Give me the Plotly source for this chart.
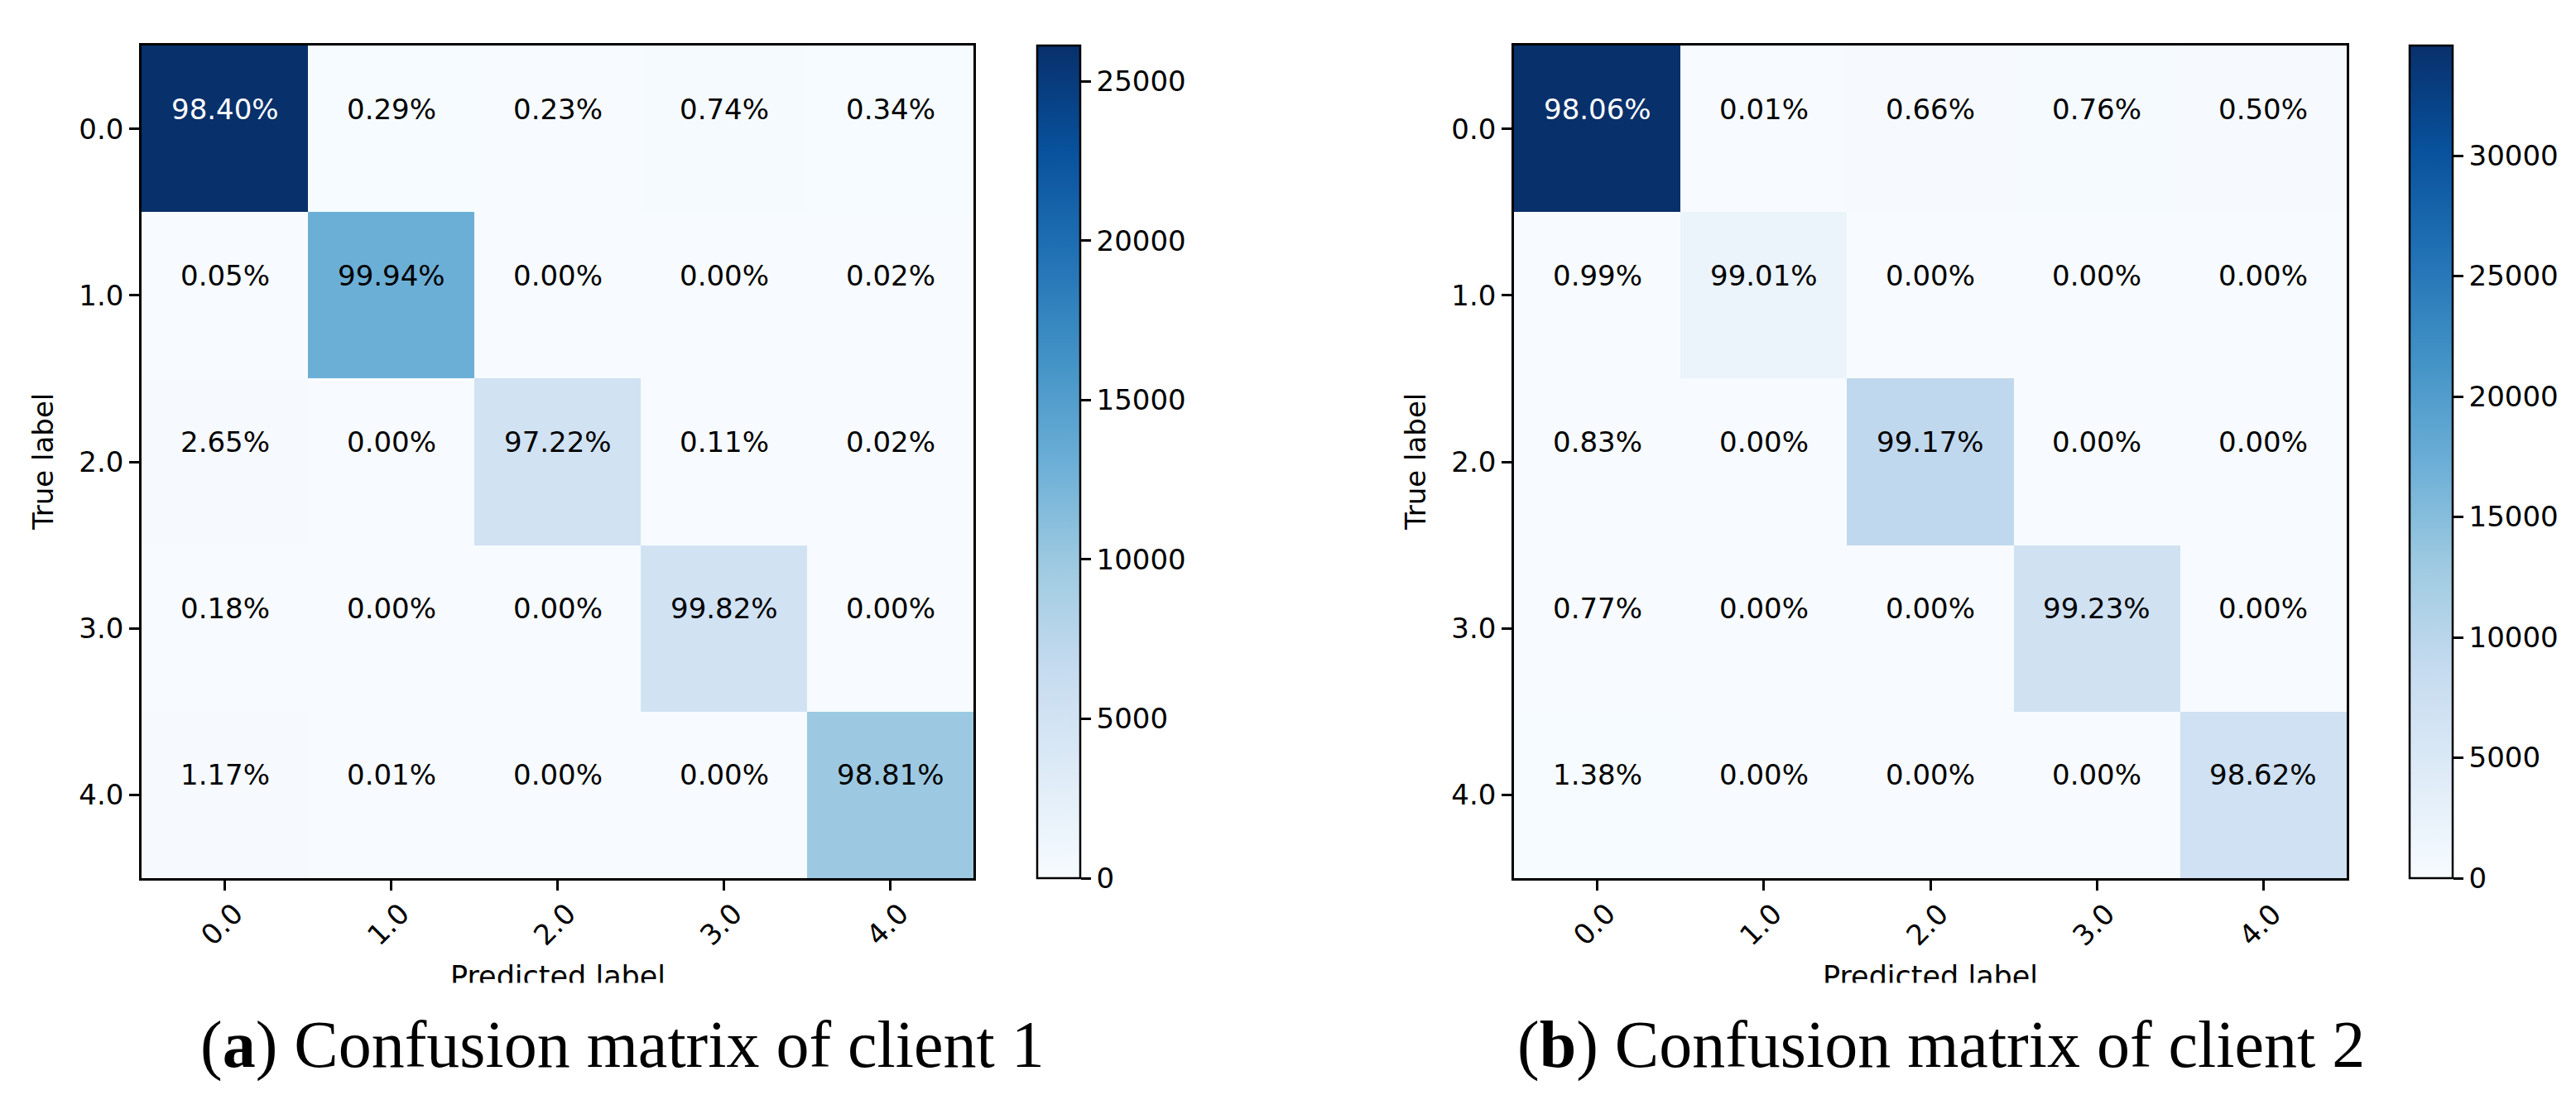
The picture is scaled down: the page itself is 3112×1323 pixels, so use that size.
import plotly.graph_objects as go

W, H = 3112, 1323

labels = ["0.0", "1.0", "2.0", "3.0", "4.0"]

# row-normalised percentages shown in the cells
pct_client1 = [
    [98.40, 0.29, 0.23, 0.74, 0.34],
    [0.05, 99.94, 0.00, 0.00, 0.02],
    [2.65, 0.00, 97.22, 0.11, 0.02],
    [0.18, 0.00, 0.00, 99.82, 0.00],
    [1.17, 0.01, 0.00, 0.00, 98.81],
]
pct_client2 = [
    [98.06, 0.01, 0.66, 0.76, 0.50],
    [0.99, 99.01, 0.00, 0.00, 0.00],
    [0.83, 0.00, 99.17, 0.00, 0.00],
    [0.77, 0.00, 0.00, 99.23, 0.00],
    [1.38, 0.00, 0.00, 0.00, 98.62],
]
# estimated samples per true class (drive the colour scale)
support_client1 = [26545, 13008, 5246, 5109, 10019]
support_client2 = [35255, 2121, 9378, 6954, 7098]

cbar_ticks1 = [0, 5000, 10000, 15000, 20000, 25000]
cbar_ticks2 = [0, 5000, 10000, 15000, 20000, 25000, 30000]

captions = ["(<b>a</b>) Confusion matrix of client 1",
            "(<b>b</b>) Confusion matrix of client 2"]

blues = ["#f7fbff", "#deebf7", "#c6dbef", "#9ecae1", "#6baed6",
         "#4292c6", "#2171b5", "#08519c", "#08306b"]
colorscale = [[i / 8, c] for i, c in enumerate(blues)]

FONT = "DejaVu Sans"
FS = 34

panels = [
    dict(pct=pct_client1, sup=support_client1, ticks=cbar_ticks1,
         x0=163, x1=1168, cb=1245, cap=744, xa="x", ya="y"),
    dict(pct=pct_client2, sup=support_client2, ticks=cbar_ticks2,
         x0=1821, x1=2827, cb=2903, cap=2337, xa="x2", ya="y2"),
]

top, bot = 47, 1053
ydom = [1 - bot / H, 1 - top / H]

fig = go.Figure()
annotations = []

for k, p in enumerate(panels):
    counts = [[p["pct"][i][j] / 100.0 * p["sup"][i] for j in range(5)] for i in range(5)]
    vmax = max(max(r) for r in counts)
    fig.add_trace(go.Heatmap(
        z=counts, x=list(range(5)), y=list(range(5)),
        colorscale=colorscale, zmin=0, zmax=vmax,
        xaxis=p["xa"], yaxis=p["ya"], hoverinfo="skip",
        colorbar=dict(
            x=p["cb"] / W, xanchor="left", xpad=0,
            y=1 - (top + bot) / 2 / H, yanchor="middle", ypad=0,
            len=bot - top, lenmode="pixels",
            thickness=52, thicknessmode="pixels",
            outlinewidth=2.5, outlinecolor="black",
            ticks="outside", ticklen=12, tickwidth=2.5, tickcolor="black",
            tickvals=p["ticks"], ticktext=[str(t) for t in p["ticks"]],
            tickfont=dict(family=FONT, size=FS, color="black"),
        ),
    ))
    thresh = vmax / 2
    for i in range(5):
        for j in range(5):
            annotations.append(dict(
                x=j, y=i, xref=p["xa"], yref=p["ya"],
                xanchor="center", yanchor="middle",
                text=f"{p['pct'][i][j]:.2f}%", showarrow=False, yshift=24,
                font=dict(family=FONT, size=FS,
                          color="white" if counts[i][j] > thresh else "black"),
            ))
    # rotated x tick labels
    for j in range(5):
        annotations.append(dict(
            x=j, y=1 - 1109 / H, xref=p["xa"], yref="paper",
            xanchor="center", yanchor="middle", xshift=-4,
            text=labels[j], textangle=-45, showarrow=False,
            font=dict(family=FONT, size=FS, color="black"),
        ))
    xc = (p["x0"] + p["x1"]) / 2
    # axis titles
    annotations.append(dict(
        x=(p["x0"] - 119) / W, y=1 - (top + bot) / 2 / H, xref="paper", yref="paper",
        xanchor="center", yanchor="middle",
        text="True label", textangle=-90, showarrow=False,
        font=dict(family=FONT, size=FS, color="black"),
    ))
    annotations.append(dict(
        x=xc / W, y=1 - 1150 / H, xref="paper", yref="paper",
        xanchor="center", yanchor="top",
        text="Predicted label", showarrow=False,
        font=dict(family=FONT, size=FS + 1, color="black"),
    ))
    # the source image is cropped just above the baseline of "Predicted label"
    annotations.append(dict(
        x=xc / W, y=1 - 1179 / H, xref="paper", yref="paper",
        xanchor="center", yanchor="top", text=" ", showarrow=False,
        width=420, height=40, bgcolor="white", borderpad=0,
        font=dict(size=10),
    ))
    annotations.append(dict(
        x=p["cap"] / W, y=1 - 1254 / H, xref="paper", yref="paper",
        xanchor="center", yanchor="middle",
        text=captions[k], showarrow=False,
        font=dict(family="Liberation Serif", size=80, color="black"),
    ))

axis_common = dict(
    showline=True, mirror=True, linecolor="black", linewidth=2.5,
    ticks="outside", ticklen=12, tickwidth=2.5, tickcolor="black",
    tickvals=list(range(5)), ticktext=labels, showgrid=False, zeroline=False,
    tickfont=dict(family=FONT, size=FS, color="black"), automargin=False,
)

layout = dict(
    width=W, height=H, autosize=False,
    margin=dict(l=0, r=0, t=0, b=0),
    paper_bgcolor="white", plot_bgcolor="white",
    template="none", annotations=annotations,
)
for k, p in enumerate(panels):
    sfx = "" if k == 0 else "2"
    layout["xaxis" + sfx] = dict(axis_common, domain=[p["x0"] / W, p["x1"] / W],
                                 range=[-0.5, 4.5], showticklabels=False,
                                 anchor="y" + sfx)
    layout["yaxis" + sfx] = dict(axis_common, domain=ydom, range=[4.5, -0.5],
                                 anchor="x" + sfx)

fig.update_layout(**layout)
fig.write_html("out.html")
